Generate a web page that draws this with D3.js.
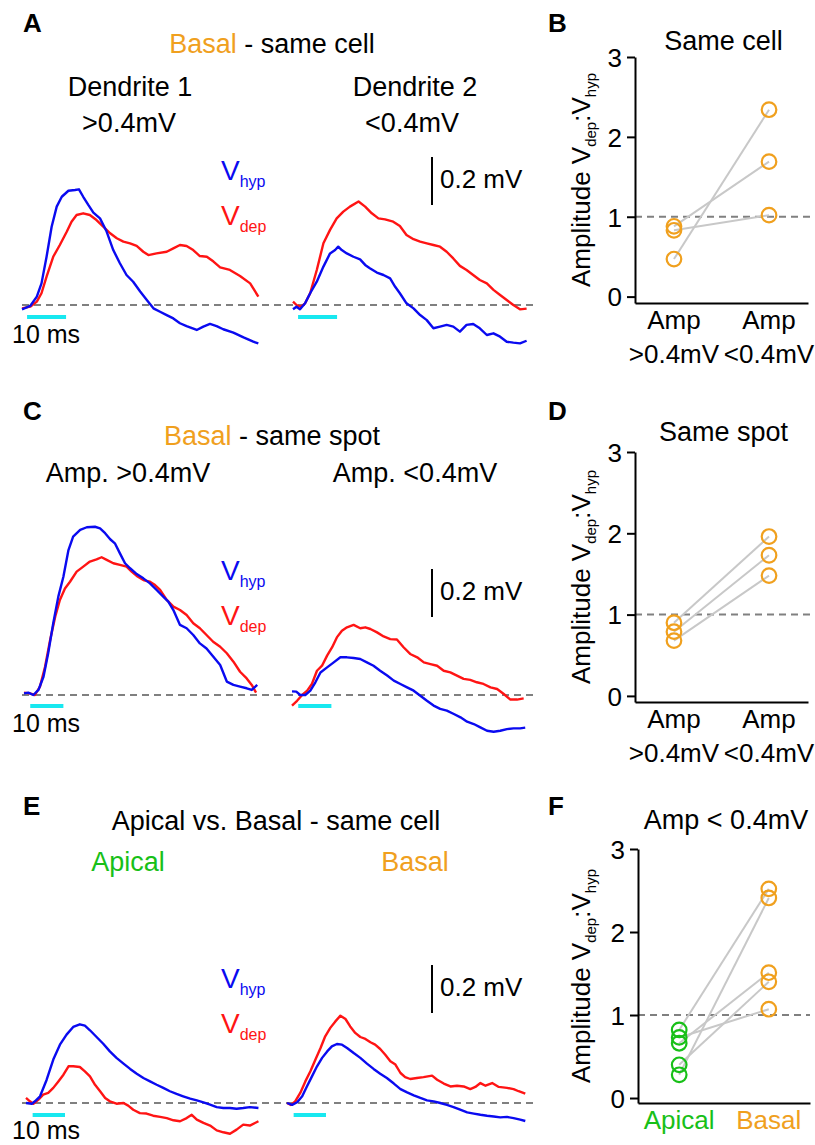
<!DOCTYPE html>
<html>
<head>
<meta charset="utf-8">
<script src="https://cdn.jsdelivr.net/npm/d3@7"></script>
<style>
  body { margin: 0; background: #fff; }
  svg { font-family: "Liberation Sans", Arial, sans-serif; }
  .lbl { font-size: 27px; }
  .tick text { font-size: 26px; font-family: "Liberation Sans", Arial, sans-serif; }
</style>
</head>
<body>
<svg id="fig" width="815" height="1145"></svg>
<script>
// ---- trace data: [time ms, voltage mV] ----
var a1Hyp = [[0,-0.018],[2.1,-0.004],[3.8,0.035],[5.0,0.09],[6.3,0.201],[7.6,0.326],[8.9,0.41],[10.2,0.451],[11.9,0.476],[13.6,0.479],[14.6,0.482],[15.7,0.451],[17.0,0.417],[18.3,0.385],[20.0,0.361],[21.7,0.306],[23.4,0.229],[25.1,0.174],[26.8,0.125],[28.5,0.097],[30.3,0.056],[32.0,0.021],[33.7,-0.014],[35.4,-0.028],[37.1,-0.042],[38.8,-0.056],[40.5,-0.076],[42.2,-0.088],[44.8,-0.104],[46.5,-0.09],[48.2,-0.079],[49.9,-0.088],[51.6,-0.101],[54.2,-0.115],[56.8,-0.135],[59.3,-0.153],[60.6,-0.16]];
var a1Dep = [[0,-0.014],[2.1,-0.007],[3.8,0.014],[5.0,0.049],[6.3,0.118],[8.0,0.201],[9.7,0.25],[11.5,0.306],[12.7,0.347],[14.0,0.375],[15.7,0.382],[17.4,0.375],[19.1,0.354],[20.9,0.326],[22.6,0.299],[24.3,0.278],[26.0,0.264],[27.7,0.257],[29.4,0.246],[31.1,0.222],[32.4,0.208],[34.5,0.215],[37.1,0.222],[38.8,0.236],[40.5,0.25],[42.2,0.246],[43.9,0.229],[45.6,0.204],[47.4,0.201],[49.1,0.181],[50.8,0.157],[53.3,0.146],[55.9,0.121],[58.5,0.09],[60.6,0.035]];
var a2Hyp = [[0,-0.018],[0.9,-0.007],[1.8,-0.018],[3.1,0.007],[4.4,0.049],[6.1,0.097],[7.8,0.16],[9.5,0.215],[10.8,0.229],[11.6,0.243],[12.5,0.229],[13.8,0.215],[15.5,0.201],[17.2,0.19],[18.5,0.167],[19.7,0.153],[21.5,0.135],[23.2,0.125],[24.9,0.111],[26.2,0.076],[27.4,0.049],[29.1,0.007],[30.9,-0.014],[32.6,-0.042],[34.3,-0.063],[36.0,-0.097],[37.7,-0.09],[39.4,-0.083],[41.1,-0.09],[42.8,-0.111],[44.5,-0.083],[46.2,-0.079],[47.9,-0.097],[49.7,-0.125],[51.4,-0.118],[53.1,-0.132],[54.8,-0.153],[56.5,-0.157],[58.2,-0.16],[59.9,-0.149]];
var a2Dep = [[0,0.014],[0.9,0],[2.0,-0.007],[3.1,0.007],[4.4,0.049],[6.1,0.146],[7.8,0.257],[9.5,0.313],[11.2,0.361],[12.9,0.389],[14.6,0.41],[16.8,0.431],[18.5,0.41],[20.2,0.382],[21.9,0.361],[23.6,0.357],[25.7,0.347],[27.4,0.329],[29.1,0.292],[30.9,0.274],[32.6,0.264],[34.3,0.257],[36.0,0.25],[37.7,0.243],[39.4,0.222],[41.1,0.194],[42.8,0.163],[44.5,0.146],[46.2,0.125],[47.9,0.104],[49.7,0.09],[51.4,0.063],[53.1,0.042],[54.8,0.021],[56.5,0],[58.2,-0.018],[59.9,-0.015]];
var c1Hyp = [[0,0.007],[1.1,0.01],[2.4,0],[3.7,0.021],[5.0,0.076],[6.2,0.174],[7.5,0.299],[8.8,0.41],[10.1,0.493],[11.4,0.604],[12.6,0.66],[14.4,0.688],[16.1,0.699],[18.2,0.701],[19.5,0.694],[20.8,0.674],[22.1,0.649],[23.3,0.632],[24.6,0.59],[25.9,0.549],[27.2,0.528],[28.9,0.504],[30.6,0.486],[32.3,0.465],[34.0,0.438],[35.7,0.41],[37.0,0.389],[38.3,0.354],[40.0,0.292],[41.7,0.278],[43.4,0.25],[45.1,0.215],[46.8,0.194],[48.5,0.16],[50.3,0.125],[52.0,0.056],[53.7,0.042],[55.4,0.035],[57.1,0.028],[58.4,0.021],[59.8,0.042]];
var c1Dep = [[0,0.01],[1.5,0.007],[2.8,0],[4.1,0.035],[5.4,0.118],[6.7,0.229],[8.0,0.326],[9.2,0.396],[10.5,0.444],[11.8,0.472],[13.5,0.514],[15.2,0.535],[16.9,0.556],[18.6,0.565],[19.9,0.574],[21.2,0.563],[22.9,0.549],[24.6,0.542],[26.3,0.535],[27.6,0.514],[28.9,0.496],[30.6,0.479],[32.3,0.472],[33.6,0.458],[34.9,0.438],[36.6,0.396],[38.3,0.368],[40.0,0.354],[41.7,0.333],[43.4,0.299],[45.1,0.278],[46.8,0.25],[48.5,0.222],[50.3,0.201],[52.0,0.174],[53.7,0.139],[55.4,0.097],[57.1,0.069],[58.4,0.042],[59.5,0.01]];
var c2Hyp = [[0,0.015],[1.1,0.014],[2.1,0],[3.4,0],[4.7,0.018],[6.0,0.053],[7.3,0.094],[9.0,0.115],[10.7,0.136],[12.4,0.157],[14.1,0.157],[15.8,0.154],[17.5,0.15],[19.2,0.136],[20.9,0.122],[22.6,0.101],[24.4,0.081],[26.1,0.06],[27.8,0.046],[29.5,0.032],[31.2,0.018],[32.9,-0.003],[34.6,-0.024],[36.3,-0.044],[38.0,-0.058],[39.7,-0.065],[41.5,-0.079],[43.2,-0.093],[44.9,-0.111],[46.6,-0.121],[48.3,-0.135],[50.0,-0.149],[51.7,-0.153],[53.4,-0.149],[55.1,-0.142],[56.8,-0.139],[58.5,-0.139],[59.8,-0.136]];
var c2Dep = [[0,-0.044],[1.3,-0.024],[2.6,0],[3.9,0.018],[5.1,0.046],[6.4,0.101],[7.7,0.122],[9.0,0.164],[10.3,0.199],[11.5,0.24],[12.8,0.268],[14.1,0.282],[15.8,0.292],[17.5,0.278],[18.8,0.282],[20.1,0.275],[21.8,0.261],[23.5,0.244],[25.2,0.233],[26.9,0.231],[28.6,0.199],[30.3,0.171],[32.1,0.157],[33.8,0.136],[35.5,0.129],[37.2,0.122],[38.9,0.101],[40.6,0.094],[42.3,0.081],[44.0,0.067],[45.7,0.063],[47.4,0.053],[49.1,0.046],[50.9,0.032],[52.6,0.025],[54.3,0.004],[56.0,-0.019],[57.7,-0.019],[59.4,-0.014]];
var e1Hyp = [[0,0],[1.5,-0.003],[2.3,0.007],[3.6,0.028],[5.3,0.097],[7.0,0.181],[8.7,0.243],[10.4,0.285],[12.1,0.317],[13.8,0.328],[15.1,0.322],[16.4,0.303],[18.1,0.275],[19.8,0.247],[21.5,0.215],[23.2,0.188],[25.0,0.164],[26.7,0.142],[28.4,0.122],[30.1,0.104],[31.8,0.09],[33.5,0.076],[35.2,0.063],[36.9,0.049],[38.6,0.038],[40.3,0.028],[42.1,0.018],[43.8,0.011],[45.5,0.003],[47.2,-0.007],[48.9,-0.017],[50.6,-0.021],[52.3,-0.021],[54.0,-0.024],[55.7,-0.021],[57.4,-0.017],[59.6,-0.021]];
var e1Dep = [[0,0.021],[1.0,0.007],[1.9,-0.003],[3.2,0.014],[4.4,0.035],[5.7,0.042],[7.0,0.063],[8.3,0.09],[9.6,0.118],[10.9,0.153],[12.1,0.153],[13.8,0.15],[15.1,0.132],[16.4,0.111],[17.7,0.076],[19.0,0.049],[20.3,0.021],[21.5,0.007],[23.2,-0.003],[25.0,0],[26.2,-0.011],[27.5,-0.028],[29.2,-0.042],[30.9,-0.044],[32.6,-0.053],[34.4,-0.058],[36.1,-0.063],[37.8,-0.072],[39.5,-0.076],[41.2,-0.063],[42.5,-0.049],[43.8,-0.069],[45.5,-0.083],[47.2,-0.094],[48.9,-0.114],[50.6,-0.122],[52.3,-0.128],[54.0,-0.111],[55.7,-0.09],[57.4,-0.094],[59.6,-0.076]];
var e2Hyp = [[0,0],[1.3,-0.008],[2.6,0.003],[3.9,0.028],[5.1,0.069],[6.4,0.111],[7.7,0.153],[9.0,0.188],[10.3,0.215],[11.5,0.236],[12.8,0.246],[14.1,0.243],[15.4,0.229],[17.1,0.208],[18.8,0.188],[20.5,0.164],[22.2,0.142],[23.9,0.122],[25.6,0.104],[27.4,0.081],[29.1,0.058],[30.8,0.044],[32.5,0.032],[34.2,0.021],[35.9,0.011],[37.6,0.007],[39.3,0],[41.0,-0.008],[42.7,-0.017],[44.4,-0.028],[46.2,-0.039],[47.9,-0.044],[49.6,-0.049],[51.3,-0.053],[53.0,-0.056],[54.7,-0.06],[56.4,-0.058],[58.1,-0.063],[59.8,-0.069],[61.1,-0.075]];
var e2Dep = [[0,0],[1.0,-0.008],[2.1,0.007],[3.4,0.042],[4.7,0.09],[6.0,0.132],[7.3,0.181],[8.6,0.229],[9.8,0.278],[11.1,0.313],[12.4,0.34],[13.7,0.364],[15.0,0.35],[16.2,0.319],[17.5,0.292],[18.8,0.275],[20.1,0.267],[21.4,0.253],[22.6,0.243],[23.9,0.225],[25.2,0.201],[26.5,0.174],[27.8,0.16],[29.1,0.125],[30.3,0.108],[31.6,0.1],[33.3,0.104],[35.0,0.108],[37.2,0.114],[38.5,0.097],[40.2,0.081],[41.9,0.069],[43.6,0.072],[45.3,0.069],[47.0,0.058],[48.3,0.067],[49.6,0.083],[50.9,0.072],[52.6,0.083],[54.3,0.067],[56.4,0.063],[58.1,0.058],[59.4,0.049],[61.1,0.039]];

// stimulus bars (ms) for rows A, C, E
var stimWindows = [[1.3, 11.3], [1.6, 10.1], [1.7, 10.0]];
var scaleBarMV = 0.2;

// ---- amplitude ratio data (Vdep:Vhyp), paired ----
var catsSame = ["Amp|>0.4mV", "Amp|<0.4mV"];
var catsApBa = ["Apical", "Basal"];
var ratioB_large = [0.88, 0.83, 0.47];
var ratioB_small = [1.69, 1.02, 2.34];
var ratioD_large = [0.90, 0.79, 0.68];
var ratioD_small = [1.96, 1.73, 1.48];
var ratioF_apical = [0.82, 0.73, 0.66, 0.40, 0.28];
var ratioF_basal  = [2.52, 1.07, 1.51, 1.40, 2.41];
var ratioTicks = [0, 1, 2, 3];

var BLUE = "#0a0af0", RED = "#ff1414", ORANGE = "#f0a01e", GREEN = "#18c018", CYAN = "#18e8f0";

var svg = d3.select("#fig");

// ---- text helpers ----
function label(x, y, txt, opts) {
  opts = opts || {};
  return svg.append("text")
    .attr("class", "lbl")
    .attr("x", x).attr("y", y)
    .attr("text-anchor", opts.anchor || "middle")
    .attr("fill", opts.color || "#000")
    .style("font-size", (opts.size || 27) + "px")
    .style("font-weight", opts.bold ? "bold" : null)
    .text(txt);
}

function vLabel(x, y, sub, color) {
  var t = svg.append("text").attr("x", x).attr("y", y).attr("fill", color);
  t.append("tspan").style("font-size", "28px").text("V");
  t.append("tspan").style("font-size", "16px").attr("dy", 7).text(sub);
}

function panelLetter(x, y, l) {
  label(x, y, l, {anchor: "start", bold: true, size: 26});
}

// ---- traces ----
var msPx = 3.9, mVPx = 240;

function drawTraces(x0, base, hyp, dep) {
  var x = d3.scaleLinear().domain([0, 1]).range([x0, x0 + msPx]);
  var y = d3.scaleLinear().domain([0, 1]).range([base, base - mVPx]);
  var line = d3.line().x(function(d){ return x(d[0]); }).y(function(d){ return y(d[1]); });
  svg.append("path").datum(dep).attr("d", line)
    .attr("fill", "none").attr("stroke", RED).attr("stroke-width", 2.4).attr("stroke-linejoin", "round");
  svg.append("path").datum(hyp).attr("d", line)
    .attr("fill", "none").attr("stroke", BLUE).attr("stroke-width", 2.4).attr("stroke-linejoin", "round");
  return {x: x, y: y};
}

function baseline(y) {
  svg.append("line").attr("x1", 22).attr("x2", 536).attr("y1", y).attr("y2", y)
    .attr("stroke", "#808080").attr("stroke-width", 2).attr("stroke-dasharray", "7,5");
}

function stim(sc, win, y) {
  svg.append("line").attr("x1", sc.x(win[0])).attr("x2", sc.x(win[1]))
    .attr("y1", y).attr("y2", y).attr("stroke", CYAN).attr("stroke-width", 4);
}

function mvBar(sc, x, top) {
  var len = sc.y(0) - sc.y(scaleBarMV);
  svg.append("line").attr("x1", x).attr("x2", x).attr("y1", top).attr("y2", top + len)
    .attr("stroke", "#000").attr("stroke-width", 2);
  label(x + 8, top + 31, scaleBarMV + " mV", {anchor: "start", size: 26});
}

var rows = [
  {hyp: [a1Hyp, a2Hyp], dep: [a1Dep, a2Dep], x0: [22, 293], base: 305, stimY: 317, barTop: 157, vy: 180, msY: 343},
  {hyp: [c1Hyp, c2Hyp], dep: [c1Dep, c2Dep], x0: [24, 292], base: 695, stimY: 706, barTop: 569, vy: 580, msY: 732},
  {hyp: [e1Hyp, e2Hyp], dep: [e1Dep, e2Dep], x0: [26, 287], base: 1103, stimY: 1115, barTop: 965, vy: 988, msY: 1139}
];

rows.forEach(function(r, i) {
  baseline(r.base);
  var s0 = drawTraces(r.x0[0], r.base, r.hyp[0], r.dep[0]);
  var s1 = drawTraces(r.x0[1], r.base, r.hyp[1], r.dep[1]);
  stim(s0, stimWindows[i], r.stimY);
  stim(s1, stimWindows[i], r.stimY);
  label(12, r.msY, "10 ms", {anchor: "start", size: 25});
  mvBar(s0, 432, r.barTop);
  vLabel(221, r.vy, "hyp", BLUE);
  vLabel(221, r.vy + 45, "dep", RED);
});

// ---- headers ----
panelLetter(23, 32, "A");
var t = svg.append("text").attr("class", "lbl").attr("x", 272).attr("y", 53).attr("text-anchor", "middle");
t.append("tspan").attr("fill", ORANGE).text("Basal");
t.append("tspan").text(" - same cell");
label(130, 96, "Dendrite 1");
label(129, 132, ">0.4mV");
label(415, 96, "Dendrite 2");
label(412, 132, "<0.4mV");

panelLetter(23, 420, "C");
t = svg.append("text").attr("class", "lbl").attr("x", 272).attr("y", 445).attr("text-anchor", "middle");
t.append("tspan").attr("fill", ORANGE).text("Basal");
t.append("tspan").text(" - same spot");
label(128, 482, "Amp. >0.4mV");
label(415, 482, "Amp. <0.4mV");

panelLetter(23, 815, "E");
label(276, 830, "Apical vs. Basal - same cell");
label(128, 871, "Apical", {color: GREEN});
label(415, 871, "Basal", {color: ORANGE});

// ---- paired scatter panels ----
function scatter(o) {
  var x = d3.scalePoint().domain(o.cats).range([o.left, o.right]).padding(o.pad);
  var y = d3.scaleLinear().domain([o.ymin, 3]).range([o.bottom, o.top]);

  panelLetter(548, o.letterY, o.letter);
  label((o.left + o.right) / 2 + 2, o.titleY, o.title, {size: 27});

  // unity line
  svg.append("line").attr("x1", o.left).attr("x2", 810).attr("y1", y(1)).attr("y2", y(1))
    .attr("stroke", "#808080").attr("stroke-width", 2).attr("stroke-dasharray", "7,5");

  var gy = svg.append("g").attr("transform", "translate(" + o.left + ",0)")
    .call(d3.axisLeft(y).tickValues(ratioTicks).tickFormat(d3.format("d")).tickSize(8).tickSizeOuter(0));
  var gx = svg.append("g").attr("transform", "translate(0," + o.bottom + ")")
    .call(d3.axisBottom(x).tickSize(0).tickSizeOuter(0).tickFormat(""));
  [gy, gx].forEach(function(g) {
    g.selectAll("path, line").attr("stroke", "#000").attr("stroke-width", 2);
    g.selectAll("text").attr("fill", "#000").attr("dx", -2).attr("dy", "0.36em");
  });

  // category labels
  o.cats.forEach(function(c, i) {
    var parts = c.split("|");
    parts.forEach(function(p, j) {
      label(x(c), o.bottom + 26 + j * 34, p, {size: 26, color: o.catColors ? o.catColors[i] : "#000"});
    });
  });

  // y label
  var yl = svg.append("text")
    .attr("transform", "translate(590," + ((o.top + o.bottom) / 2) + ") rotate(-90)")
    .attr("text-anchor", "middle").style("font-size", "26px");
  yl.append("tspan").text("Amplitude V");
  yl.append("tspan").style("font-size", "15px").attr("dy", 6).text("dep");
  yl.append("tspan").attr("dy", -6).text(":V");
  yl.append("tspan").style("font-size", "15px").attr("dy", 6).text("hyp");

  var pairs = o.a.map(function(v, i) { return [v, o.b[i]]; });
  svg.append("g").selectAll("line").data(pairs).join("line")
    .attr("x1", x(o.cats[0])).attr("x2", x(o.cats[1]))
    .attr("y1", function(d){ return y(d[0]); }).attr("y2", function(d){ return y(d[1]); })
    .attr("stroke", "#c8c8c8").attr("stroke-width", 2);

  [o.a, o.b].forEach(function(vals, k) {
    svg.append("g").selectAll("circle").data(vals).join("circle")
      .attr("cx", x(o.cats[k])).attr("cy", function(d){ return y(d); })
      .attr("r", 7.3).attr("fill", "none")
      .attr("stroke", o.dotColors[k]).attr("stroke-width", 2.2);
  });
}

scatter({cats: catsSame, a: ratioB_large, b: ratioB_small, left: 635, right: 808, pad: 0.41,
  top: 57, bottom: 303, ymin: -0.08, letter: "B", letterY: 32, title: "Same cell", titleY: 50,
  dotColors: [ORANGE, ORANGE]});
scatter({cats: catsSame, a: ratioD_large, b: ratioD_small, left: 635, right: 808, pad: 0.41,
  top: 452, bottom: 702, ymin: -0.075, letter: "D", letterY: 420, title: "Same spot", titleY: 441,
  dotColors: [ORANGE, ORANGE]});
scatter({cats: catsApBa, a: ratioF_apical, b: ratioF_basal, left: 638, right: 810, pad: 0.46,
  top: 849, bottom: 1103, ymin: -0.06, letter: "F", letterY: 815, title: "Amp < 0.4mV", titleY: 829,
  dotColors: [GREEN, ORANGE], catColors: [GREEN, ORANGE]});
</script>
</body>
</html>
